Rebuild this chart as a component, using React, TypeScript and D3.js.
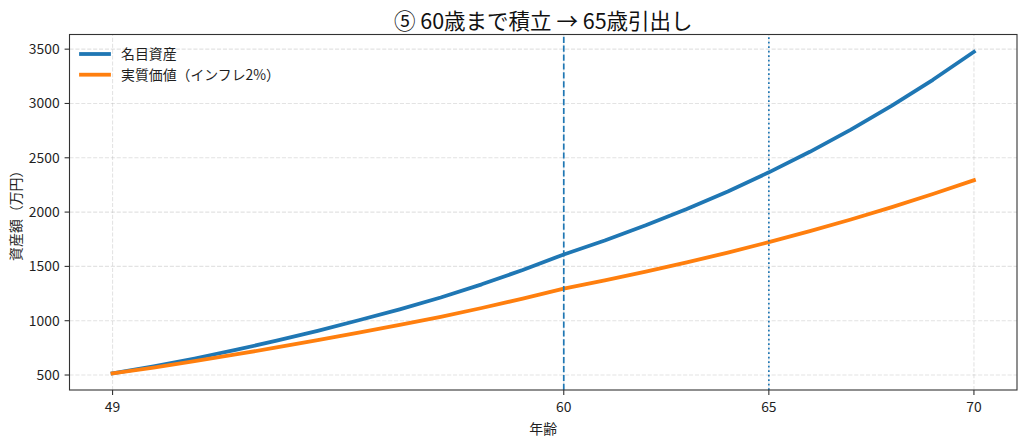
import * as d3 from "d3";

// chart size (matches the screenshot window)
const W = 1024;
const H = 443;
const margin = { top: 34.5, right: 7, bottom: 53, left: 69.5 };

// ages 49..70
const ages = [49, 50, 51, 52, 53, 54, 55, 56, 57, 58, 59, 60, 61, 62, 63, 64, 65, 66, 67, 68, 69, 70];
// nominal assets (万円)
const nominal = [516, 580, 652, 731, 816, 907, 1004, 1105, 1214, 1335, 1467, 1610, 1739, 1878, 2028, 2190, 2366, 2555, 2759, 2980, 3218, 3476];
// real value after 2% inflation (万円)
const real = [516, 569, 627, 689, 754, 821, 891, 962, 1036, 1117, 1203, 1295, 1371, 1452, 1537, 1627, 1723, 1825, 1932, 2046, 2166, 2293];

const xTicks = [49, 60, 65, 70];
const yTicks = [500, 1000, 1500, 2000, 2500, 3000, 3500];
const stopAge = 60;
const withdrawAge = 65;

const title = "⑤ 60歳まで積立 → 65歳引出し";
const xLabel = "年齢";
const yLabel = "資産額（万円）";
const seriesNames = ["名目資産", "実質価値（インフレ2%）"];
const colors = ["#1f77b4", "#ff7f0e"];

const font = "'Noto Sans CJK JP', 'Noto Sans', sans-serif";
const fs = 13.9;

export default function App() {
  const x0 = margin.left;
  const x1 = W - margin.right;
  const y0 = H - margin.bottom;
  const y1 = margin.top;

  // 5% padding like matplotlib autoscale
  const span = ages[ages.length - 1] - ages[0];
  const x = d3
    .scaleLinear()
    .domain([ages[0] - span * 0.05, ages[ages.length - 1] + span * 0.05])
    .range([x0, x1]);
  const y = d3.scaleLinear().domain([362, 3635]).range([y0, y1]);

  const line = d3
    .line<number>()
    .x((_, i) => x(ages[i]))
    .y((d) => y(d));

  const series = [nominal, real];

  return (
    <svg
      width={W}
      height={H}
      style={{ position: "absolute", left: 0, top: 0, background: "#fff" }}
      fontFamily={font}
    >
      {/* grid */}
      <g stroke="#b0b0b0" strokeOpacity={0.35} strokeWidth={1.1} strokeDasharray="4.1,1.8">
        {yTicks.map((t) => (
          <line key={"gy" + t} x1={x0} x2={x1} y1={y(t)} y2={y(t)} />
        ))}
        {xTicks.map((t) => (
          <line key={"gx" + t} x1={x(t)} x2={x(t)} y1={y0} y2={y1} />
        ))}
      </g>

      {/* series */}
      {series.map((s, i) => (
        <path
          key={"s" + i}
          d={line(s) || ""}
          fill="none"
          stroke={colors[i]}
          strokeWidth={3.8}
          strokeLinejoin="round"
          strokeLinecap="square"
        />
      ))}

      {/* 60 / 65 markers */}
      <line
        x1={x(stopAge)}
        x2={x(stopAge)}
        y1={y0}
        y2={y1}
        stroke={colors[0]}
        strokeWidth={1.7}
        strokeDasharray="6.2,2.7"
      />
      <line
        x1={x(withdrawAge)}
        x2={x(withdrawAge)}
        y1={y0}
        y2={y1}
        stroke={colors[0]}
        strokeWidth={1.7}
        strokeDasharray="1.7,2.8"
      />

      {/* spines */}
      <rect x={x0} y={y1} width={x1 - x0} height={y0 - y1} fill="none" stroke="#333" strokeWidth={1.1} />

      {/* y axis */}
      <g fontSize={fs} fill="#1f1f1f">
        {yTicks.map((t) => (
          <g key={"ty" + t}>
            <line x1={x0 - 4.9} x2={x0} y1={y(t)} y2={y(t)} stroke="#333" strokeWidth={1.1} />
            <text x={x0 - 9.8} y={y(t)} dy="0.36em" textAnchor="end">
              {t}
            </text>
          </g>
        ))}
      </g>

      {/* x axis */}
      <g fontSize={fs} fill="#1f1f1f">
        {xTicks.map((t) => (
          <g key={"tx" + t}>
            <line x1={x(t)} x2={x(t)} y1={y0} y2={y0 + 4.9} stroke="#333" strokeWidth={1.1} />
            <text x={x(t)} y={y0 + 21.5} textAnchor="middle">
              {t}
            </text>
          </g>
        ))}
      </g>

      {/* labels */}
      <text x={(x0 + x1) / 2} y={434} textAnchor="middle" fontSize={fs} fill="#1f1f1f">
        {xLabel}
      </text>
      <text
        transform={`translate(21,${(y0 + y1) / 2}) rotate(-90)`}
        textAnchor="middle"
        fontSize={fs}
        fill="#1f1f1f"
      >
        {yLabel}
      </text>
      <text x={(x0 + x1) / 2} y={28.5} textAnchor="middle" fontSize={21.5} fill="#111">
        {title}
      </text>

      {/* legend */}
      <g fontSize={fs} fill="#1f1f1f">
        {seriesNames.map((n, i) => (
          <g key={"lg" + i} transform={`translate(0,${54 + i * 20.7})`}>
            <line x1={81} x2={109} y1={0} y2={0} stroke={colors[i]} strokeWidth={3.8} strokeLinecap="square" />
            <text x={121} y={0} dy="0.36em">
              {n}
            </text>
          </g>
        ))}
      </g>
    </svg>
  );
}
